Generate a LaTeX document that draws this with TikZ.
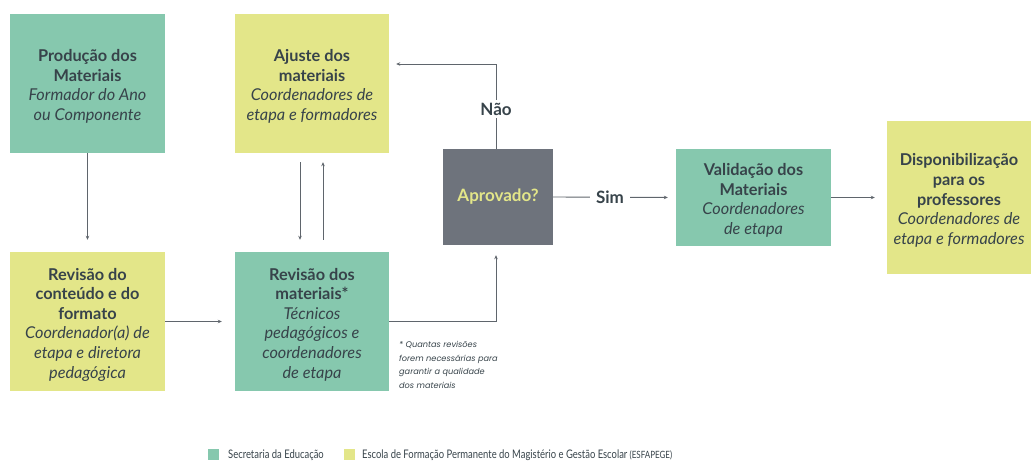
\documentclass[tikz,border=0pt]{standalone}
\usepackage{fontspec}
\setmainfont{Lato}
\newfontfamily\notefont{Poppins}
\newfontfamily\legendfont[FakeStretch=0.8]{Lato}
\usetikzlibrary{arrows.meta}
\definecolor{boxgreen}{HTML}{86C8AE}
\definecolor{boxyellow}{HTML}{E3E689}
\definecolor{boxgray}{HTML}{6E737C}
\definecolor{txt}{HTML}{37434A}
\definecolor{lin}{HTML}{5F656C}
\tikzset{
  box/.style={draw=none, inner sep=0pt, minimum width=155pt, minimum height=139pt},
  gbox/.style={box, fill=boxgreen},
  ybox/.style={box, fill=boxyellow},
  btxt/.style={inner sep=0pt, align=center, text=txt, font=\fontsize{16.3}{19.6}\selectfont},
  arr/.style={draw=lin, line width=0.9pt, -{Stealth[length=4pt,width=3.5pt]}},
  lbl/.style={fill=white, text=txt, inner sep=3pt, font=\fontsize{17}{20}\selectfont\bfseries},
}
\begin{document}
\begin{tikzpicture}[x=1pt,y=-1pt]
\useasboundingbox (0,0) rectangle (1031,470);
\node[gbox] (prod) at (87.5,83.5) {};
\node[btxt] (prodt) at ([yshift=-3pt]prod.center) {\textbf{Produção dos}\\\textbf{Materiais}\\\textit{Formador do Ano}\\\textit{ou Componente}};
\node[ybox, minimum width=154pt] (ajuste) at (312,83.5) {};
\node[btxt] (ajustet) at ([yshift=-3pt]ajuste.center) {\textbf{Ajuste dos}\\\textbf{materiais}\\\textit{Coordenadores de}\\\textit{etapa e formadores}};
\node[ybox] (revc) at (87.5,321.5) {};
\node[btxt] (revct) at ([yshift=-3pt]revc.center) {\textbf{Revisão do}\\\textbf{conteúdo e do}\\\textbf{formato}\\\textit{Coordenador(a) de}\\\textit{etapa e diretora}\\\textit{pedagógica}};
\node[gbox, minimum width=154pt] (revd) at (312,321.5) {};
\node[btxt] (revdt) at ([yshift=-3pt]revd.center) {\textbf{Revisão dos}\\\textbf{materiais*}\\\textit{Técnicos}\\\textit{pedagógicos e}\\\textit{coordenadores}\\\textit{de etapa}};
\node[box, fill=boxgray, minimum width=110pt, minimum height=96pt, text=boxyellow, font=\fontsize{17}{20}\selectfont\bfseries] (aprov) at (498,197) {Aprovado?};
\node[gbox, minimum height=97pt] (valid) at (753.5,197.5) {};
\node[btxt] (validt) at ([yshift=-3pt]valid.center) {\textbf{Validação dos}\\\textbf{Materiais}\\\textit{Coordenadores}\\\textit{de etapa}};
\node[ybox, minimum width=144pt, minimum height=153pt] (disp) at (959,197.5) {};
\node[btxt] (dispt) at ([yshift=-3pt]disp.center) {\textbf{Disponibilização}\\\textbf{para os}\\\textbf{professores}\\\textit{Coordenadores de}\\\textit{etapa e formadores}};
% connectors
\draw[arr, shorten >=12pt] (prod.south) -- (revc.north);
\draw[arr, shorten <=9pt, shorten >=12pt] ([xshift=-12pt]ajuste.south) -- ([xshift=-12pt]revd.north);
\draw[arr, shorten <=12pt, shorten >=9pt] ([xshift=11pt]revd.north) -- ([xshift=11pt]ajuste.south);
\draw[arr, shorten >=13pt] (revc.east) -- (revd.west);
\draw[arr, shorten >=10pt] (revd.east) -| ([xshift=-2pt]aprov.south);
\coordinate (nao) at (496,64);
\draw[arr, shorten >=7pt] ([xshift=-2pt]aprov.north) -- (nao) -- (ajuste.east |- nao);
\node[lbl] (naolbl) at (496,109) {Não};
\draw[arr, shorten >=8pt] (aprov.east) -- (valid.west);
\node[lbl, inner xsep=6pt] (simlbl) at (610,197) {Sim};
\draw[arr, shorten >=12pt] (valid.east) -- (disp.west);
% note
\node[anchor=north west, align=left, text=txt, inner sep=0pt, font=\notefont\itshape\fontsize{8.2}{13.6}\selectfont] (note) at (399,341) {* Quantas revisões\\forem necessárias para\\garantir a qualidade\\dos materiais};
% legend
\node[fill=boxgreen, minimum size=11pt, inner sep=0pt] (lg) at (213.5,454.5) {};
\node[anchor=west, inner sep=0pt, text=txt, font=\legendfont\fontsize{11.8}{12}\selectfont] (lgt) at (228,455) {Secretaria da Educação};
\node[fill=boxyellow, minimum size=11pt, inner sep=0pt] (ly) at (349.5,454.5) {};
\node[anchor=west, inner sep=0pt, text=txt, font=\legendfont\fontsize{11.8}{12}\selectfont] (lyt) at (362,455) {Escola de Formação Permanente do Magistério e Gestão Escolar {\fontsize{10}{12}\selectfont(ESFAPEGE)}};
\end{tikzpicture}
\end{document}
